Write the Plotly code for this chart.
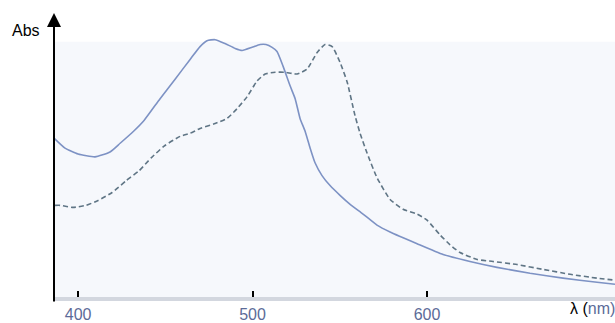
import plotly.graph_objects as go

# Solid spectrum
solid_nm = [386.2, 392.5, 400.0, 409.7, 418.3, 424.1, 431.8, 437.8, 447.0, 455.6, 464.2, 469.9,
            473.9, 478.5, 484.2, 490.0, 494.0, 499.7, 504.3, 507.7, 511.2, 514.0, 517.5, 521.5,
            524.4, 527.2, 530.1, 533.0, 535.8, 539.8, 544.4, 550.1, 555.9, 563.3, 571.3, 578.8,
            594.3, 609.2, 624.6, 640.1, 659.0, 677.9, 697.4, 707.7]
solid_abs = [0.608, 0.569, 0.546, 0.535, 0.554, 0.588, 0.635, 0.677, 0.762, 0.838, 0.915, 0.965,
             0.988, 0.992, 0.977, 0.958, 0.950, 0.962, 0.973, 0.973, 0.962, 0.946, 0.888, 0.812,
             0.762, 0.685, 0.635, 0.569, 0.512, 0.462, 0.423, 0.385, 0.350, 0.312, 0.269, 0.242,
             0.196, 0.154, 0.127, 0.104, 0.081, 0.062, 0.046, 0.038]

# Dashed spectrum
dash_nm = [386.8, 389.7, 397.1, 404.6, 411.5, 419.5, 427.5, 435.0, 441.9, 449.3, 458.5, 464.2,
           469.9, 478.5, 485.4, 491.1, 496.8, 502.6, 507.2, 512.9, 518.6, 525.5, 531.2, 537.0,
           541.5, 545.6, 550.1, 554.2, 558.7, 561.6, 565.6, 571.3, 578.8, 586.2, 594.3, 600.0,
           607.4, 613.2, 618.9, 628.7, 637.8, 651.6, 666.5, 682.0, 697.4, 707.7]
dash_abs = [0.346, 0.346, 0.338, 0.346, 0.365, 0.396, 0.442, 0.481, 0.531, 0.577, 0.615, 0.627,
            0.646, 0.665, 0.685, 0.723, 0.769, 0.831, 0.858, 0.865, 0.865, 0.858, 0.877, 0.942,
            0.973, 0.965, 0.904, 0.827, 0.696, 0.627, 0.550, 0.454, 0.369, 0.331, 0.312, 0.288,
            0.231, 0.192, 0.162, 0.135, 0.127, 0.115, 0.096, 0.077, 0.062, 0.054]

tick_vals = [400, 500, 600]
tick_text = ["400", "500", "600"]

fig = go.Figure()
fig.add_trace(go.Scatter(x=dash_nm, y=dash_abs, mode="lines",
                         line=dict(color="#5f7585", width=1.6, dash="5px,3px", shape="spline", smoothing=0.5),
                         hoverinfo="skip"))
fig.add_trace(go.Scatter(x=solid_nm, y=solid_abs, mode="lines",
                         line=dict(color="#7d92c4", width=1.6, shape="spline", smoothing=0.5),
                         hoverinfo="skip"))

fig.add_shape(type="rect", xref="paper", yref="paper", x0=0, x1=1, y0=0, y1=0.899,
              fillcolor="#f6f8fc", line=dict(width=0), layer="below")

fig.add_annotation(xref="paper", yref="paper", x=0, y=1, ax=0, ay=290, axref="pixel", ayref="pixel",
                   showarrow=True, arrowhead=2, arrowsize=1.4, arrowwidth=2, arrowcolor="black",
                   standoff=0, text="")
fig.add_annotation(xref="paper", yref="paper", x=-0.0499, y=0.9375, xanchor="center", yanchor="middle",
                   text="Abs", showarrow=False,
                   font=dict(family="Arial, Liberation Sans", size=16, color="black"))
fig.add_annotation(xref="paper", yref="paper", x=0.916, y=-0.0417, xanchor="left", yanchor="middle",
                   text="λ (<span style='color:#5c6b98'>nm)</span>", showarrow=False,
                   font=dict(family="Arial, Liberation Sans", size=16, color="black"))

fig.update_layout(
    width=615, height=323,
    margin=dict(l=54, r=0, t=13, b=22),
    paper_bgcolor="white", plot_bgcolor="white",
    showlegend=False,
    xaxis=dict(range=[386.2, 707.7], tickvals=tick_vals, ticktext=tick_text,
               showgrid=False, zeroline=False, showline=True, linecolor="#d3d7df", linewidth=4,
               ticks="inside", ticklen=6, tickwidth=2, tickcolor="black", ticklabelstandoff=0,
               tickfont=dict(family="Arial, Liberation Sans", size=16, color="#5c6b98")),
    yaxis=dict(range=[-0.0115, 1.096], showgrid=False, zeroline=False, showline=False,
               showticklabels=False, ticks=""),
)

fig.write_html("out.html")
